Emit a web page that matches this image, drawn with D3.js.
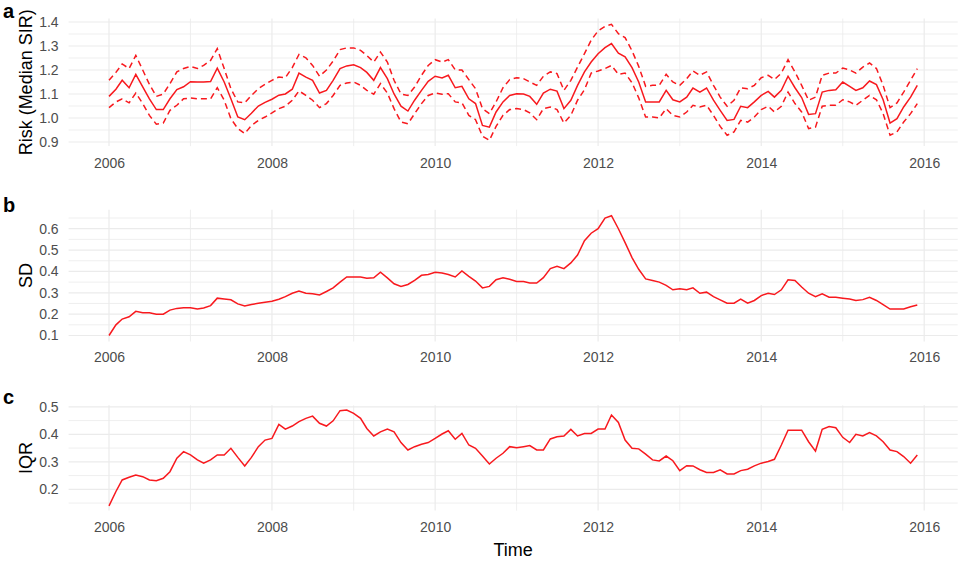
<!DOCTYPE html>
<html><head><meta charset="utf-8">
<script src="https://cdn.jsdelivr.net/npm/d3@7"></script>
<style>body{margin:0;background:#fff}svg{display:block}</style>
</head><body>
<script>
// ---- data (monthly, Jan 2006 .. Dec 2015) ----
const startMonth = "2006-01", endMonth = "2016-01";
const medianSIR = [1.09,1.12,1.157,1.126,1.182,1.13,1.08,1.035,1.035,1.08,1.118,1.13,
1.151,1.15,1.15,1.152,1.208,1.15,1.08,1.004,0.993,1.02,1.05,1.065,
1.078,1.095,1.10,1.12,1.187,1.17,1.157,1.104,1.115,1.157,1.206,1.217,
1.222,1.21,1.19,1.157,1.21,1.164,1.10,1.049,1.029,1.074,1.115,1.153,
1.174,1.167,1.178,1.126,1.132,1.08,1.06,0.969,0.962,1.025,1.067,1.094,
1.101,1.10,1.09,1.057,1.104,1.12,1.112,1.039,1.074,1.136,1.192,1.233,
1.268,1.293,1.31,1.27,1.255,1.21,1.15,1.067,1.067,1.067,1.115,1.076,
1.067,1.087,1.125,1.108,1.125,1.074,1.032,0.99,0.994,1.049,1.043,1.067,
1.094,1.111,1.087,1.115,1.174,1.126,1.085,1.015,1.018,1.108,1.115,1.118,
1.15,1.132,1.115,1.126,1.154,1.139,1.076,0.979,0.997,1.046,1.087,1.136];
const upperSIR = [1.157,1.19,1.225,1.206,1.261,1.2,1.14,1.09,1.1,1.143,1.192,1.206,
1.215,1.206,1.219,1.24,1.289,1.206,1.122,1.067,1.063,1.094,1.122,1.14,
1.157,1.171,1.168,1.21,1.265,1.251,1.219,1.174,1.2,1.237,1.285,1.292,
1.292,1.282,1.26,1.233,1.275,1.233,1.157,1.1,1.094,1.129,1.178,1.219,
1.243,1.233,1.243,1.201,1.2,1.16,1.122,1.039,1.018,1.067,1.126,1.16,
1.168,1.164,1.15,1.136,1.174,1.192,1.185,1.115,1.157,1.212,1.268,1.324,
1.363,1.382,1.39,1.351,1.335,1.28,1.215,1.132,1.136,1.136,1.182,1.15,
1.136,1.164,1.196,1.178,1.192,1.136,1.087,1.049,1.074,1.126,1.122,1.136,
1.168,1.178,1.16,1.187,1.243,1.192,1.136,1.074,1.087,1.178,1.187,1.187,
1.208,1.2,1.187,1.212,1.229,1.206,1.136,1.043,1.063,1.108,1.157,1.206];
const lowerSIR = [1.043,1.067,1.08,1.063,1.104,1.06,1.011,0.974,0.979,1.032,1.053,1.08,
1.083,1.08,1.08,1.08,1.126,1.074,0.997,0.956,0.935,0.969,0.99,1.004,
1.021,1.039,1.049,1.074,1.113,1.094,1.074,1.043,1.06,1.094,1.136,1.146,
1.15,1.136,1.115,1.099,1.143,1.104,1.039,0.983,0.976,1.018,1.06,1.094,
1.104,1.099,1.101,1.067,1.063,1.011,0.993,0.924,0.907,0.965,1.011,1.035,
1.039,1.035,1.021,0.993,1.039,1.046,1.035,0.979,1.011,1.074,1.118,1.187,
1.196,1.206,1.219,1.182,1.187,1.147,1.084,1.004,1.004,1.0,1.039,1.011,
1.004,1.025,1.053,1.046,1.053,1.011,0.965,0.928,0.942,0.99,0.983,1.004,
1.035,1.049,1.025,1.049,1.108,1.06,1.025,0.956,0.962,1.049,1.053,1.053,
1.076,1.067,1.053,1.074,1.094,1.076,1.018,0.928,0.942,0.983,1.018,1.06];
const sdValues = [0.10,0.15,0.177,0.188,0.213,0.207,0.207,0.2,0.2,0.219,0.227,0.23,
0.23,0.224,0.229,0.24,0.275,0.271,0.267,0.248,0.238,0.245,0.251,0.256,
0.26,0.27,0.282,0.298,0.308,0.298,0.295,0.29,0.306,0.323,0.35,0.374,
0.374,0.374,0.368,0.37,0.396,0.37,0.342,0.33,0.339,0.358,0.382,0.386,
0.396,0.393,0.386,0.374,0.402,0.377,0.355,0.323,0.33,0.361,0.37,0.363,
0.353,0.353,0.346,0.346,0.371,0.413,0.424,0.413,0.44,0.477,0.544,0.579,
0.6,0.65,0.661,0.60,0.535,0.465,0.41,0.365,0.358,0.35,0.335,0.314,
0.319,0.314,0.323,0.298,0.303,0.282,0.267,0.251,0.251,0.27,0.251,0.264,
0.287,0.298,0.292,0.314,0.361,0.358,0.327,0.298,0.282,0.295,0.279,0.279,
0.275,0.271,0.264,0.268,0.279,0.264,0.245,0.224,0.224,0.224,0.235,0.243];
const iqrValues = [0.14,0.192,0.234,0.244,0.252,0.246,0.234,0.231,0.24,0.264,0.313,0.337,
0.325,0.307,0.295,0.307,0.325,0.325,0.349,0.316,0.285,0.316,0.355,0.379,
0.385,0.436,0.419,0.43,0.446,0.458,0.466,0.44,0.43,0.449,0.486,0.488,
0.476,0.458,0.421,0.394,0.409,0.419,0.409,0.37,0.343,0.355,0.364,0.37,
0.385,0.401,0.413,0.382,0.403,0.361,0.349,0.321,0.292,0.313,0.331,0.355,
0.351,0.355,0.359,0.343,0.343,0.383,0.391,0.394,0.418,0.394,0.403,0.403,
0.419,0.419,0.47,0.443,0.379,0.349,0.347,0.328,0.307,0.303,0.321,0.304,
0.268,0.286,0.285,0.271,0.261,0.261,0.271,0.256,0.256,0.268,0.273,0.285,
0.295,0.301,0.309,0.361,0.415,0.415,0.415,0.373,0.339,0.418,0.428,0.424,
0.389,0.37,0.4,0.394,0.406,0.394,0.373,0.343,0.337,0.319,0.295,0.325];
const panelTags = ["a","b","c"];
const yTitles = ["Risk (Median SIR)","SD","IQR"];
const yTickValues = [[0.9,1.0,1.1,1.2,1.3,1.4],[0.1,0.2,0.3,0.4,0.5,0.6],[0.2,0.3,0.4,0.5]];
const xTickYears = [2006,2008,2010,2012,2014,2016];
const xTitle = "Time";

// ---- drawing ----
const W = 960, H = 561;
const parse = d3.timeParse("%Y-%m");
const months = d3.timeMonth.range(parse(startMonth), parse(endMonth));
const svg = d3.select("body").append("svg").attr("width", W).attr("height", H)
  .style("font-family", "Arial, 'Liberation Sans', sans-serif");

const t0 = months[0], t1 = months[months.length-1];
const span = t1 - t0;
const x = d3.scaleTime()
  .domain([new Date(+t0 - span*0.05), new Date(+t1 + span*0.05)])
  .range([68.6, 957.7]);

const panels = [
  {series:[{v:medianSIR,dash:null},{v:upperSIR,dash:"6,4"},{v:lowerSIR,dash:"6,4"}], top:18.6, bottom:146.1, xLab:163, tagY:18},
  {series:[{v:sdValues,dash:null}], top:209.7, bottom:341.5, xLab:357, tagY:212},
  {series:[{v:iqrValues,dash:null}], top:405.3, bottom:510.6, xLab:527, tagY:404}
];

const gridColor = "#EBEBEB";
const yearTicks = d3.range(2005, 2018).map(yr => new Date(yr,0,1))
  .filter(d => d >= x.domain()[0] && d <= x.domain()[1]);

panels.forEach((p, i) => {
  const all = p.series.flatMap(s => s.v);
  const [mn, mx] = d3.extent(all);
  const pad = (mx - mn) * 0.05;
  const y = d3.scaleLinear().domain([mn - pad, mx + pad]).range([p.bottom, p.top]);
  const g = svg.append("g");
  const [x0, x1] = x.range();

  const majors = yTickValues[i];
  const step = majors[1] - majors[0];
  const minors = d3.range(majors[0] - step/2, majors[majors.length-1] + step, step)
    .filter(v => v >= y.domain()[0] && v <= y.domain()[1]);
  g.selectAll(".hmin").data(minors).join("line")
    .attr("x1", x0).attr("x2", x1).attr("y1", d => y(d)).attr("y2", d => y(d))
    .attr("stroke", gridColor).attr("stroke-width", 0.8);
  g.selectAll(".hmaj").data(majors).join("line")
    .attr("x1", x0).attr("x2", x1).attr("y1", d => y(d)).attr("y2", d => y(d))
    .attr("stroke", gridColor).attr("stroke-width", 1.2);
  g.selectAll(".vg").data(yearTicks).join("line")
    .attr("x1", d => x(d)).attr("x2", d => x(d)).attr("y1", p.top).attr("y2", p.bottom)
    .attr("stroke", gridColor).attr("stroke-width", d => d.getFullYear() % 2 === 0 ? 1.2 : 0.8);

  const yAxis = d3.axisLeft(y).tickValues(majors).tickSize(0).tickPadding(0).tickFormat(d3.format(".1f"));
  const ya = g.append("g").attr("transform", `translate(${x0 - 10},0)`).call(yAxis);
  ya.select(".domain").remove();
  ya.selectAll("text").attr("fill", "#4D4D4D").style("font-size", "14px");

  const xAxis = d3.axisBottom(x).tickValues(xTickYears.map(yr => new Date(yr,0,1)))
    .tickSize(0).tickPadding(0).tickFormat(d3.timeFormat("%Y"));
  const xa = g.append("g").attr("transform", `translate(0,${p.xLab - 5})`).call(xAxis);
  xa.select(".domain").remove();
  xa.selectAll("text").attr("fill", "#4D4D4D").style("font-size", "14px");

  const line = d3.line().x((d, j) => x(months[j])).y(d => y(d));
  p.series.forEach(s => {
    g.append("path").datum(s.v).attr("d", line)
      .attr("fill", "none").attr("stroke", "#F8191E").attr("stroke-width", 1.5)
      .attr("stroke-dasharray", s.dash);
  });

  const cy = (p.top + p.bottom) / 2;
  g.append("text").attr("transform", `translate(32,${cy}) rotate(-90)`)
    .attr("text-anchor", "middle").style("font-size", "18px").attr("fill", "#000")
    .text(yTitles[i]);
  g.append("text").attr("x", 3).attr("y", p.tagY).style("font-size", "20px")
    .style("font-weight", "bold").attr("fill", "#000").text(panelTags[i]);
});

svg.append("text").attr("x", (x.range()[0] + x.range()[1]) / 2).attr("y", 556)
  .attr("text-anchor", "middle").style("font-size", "18px").attr("fill", "#000").text(xTitle);
</script>
</body></html>
